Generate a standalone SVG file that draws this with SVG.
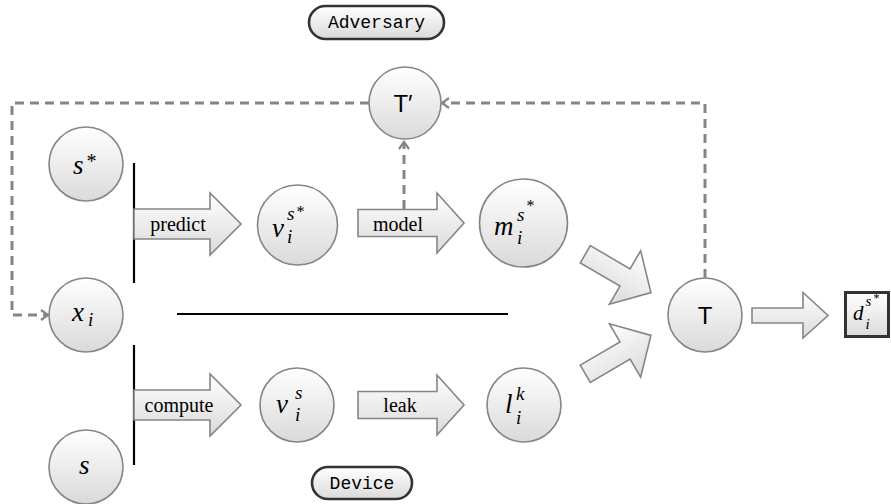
<svg xmlns="http://www.w3.org/2000/svg" width="891" height="504" viewBox="0 0 891 504">
<style>
.node{fill:url(#gfill);stroke:#858585;stroke-width:1.6}
.blk{fill:url(#gfill);stroke:#858585;stroke-width:1.6;stroke-linejoin:miter}
.dash{fill:none;stroke:#858585;stroke-width:3;stroke-dasharray:9 6}
.bar{stroke:#000;stroke-width:2.2;fill:none}
.pill{fill:url(#gfill);stroke:#333;stroke-width:2.6}
.m{font-family:"Liberation Serif",serif;font-style:italic;font-size:27px;fill:#000}
.ms{font-family:"Liberation Serif",serif;font-style:italic;font-size:19px;fill:#000}
.ast{font-family:"Liberation Serif",serif;font-size:16px;fill:#000}
.lab{font-family:"Liberation Serif",serif;font-size:20px;fill:#000;text-anchor:middle}
.sans{font-family:"Liberation Sans",Arial,sans-serif;font-size:24px;fill:#000;text-anchor:middle}
.tt{font-family:"Liberation Mono","DejaVu Sans Mono",monospace;font-size:18px;fill:#000;text-anchor:middle}
</style>
<defs>
<linearGradient id="gfill" x1="0" y1="0" x2="0" y2="1">
<stop offset="0" stop-color="#ffffff"/>
<stop offset="1" stop-color="#dadada"/>
</linearGradient>
<marker id="chev" viewBox="0 0 12 12" refX="10" refY="6" markerWidth="12" markerHeight="12" markerUnits="userSpaceOnUse" orient="auto">
<path d="M3,1 L10,6 L3,11" fill="none" stroke="#858585" stroke-width="2.2" stroke-dasharray="none"/>
</marker>
</defs>

<g id="connectors">
<path class="dash" d="M369,103 H12 V315 H48" marker-end="url(#chev)"/>
<path class="dash" d="M705,278 V103 H442" marker-end="url(#chev)"/>
<line class="bar" x1="134" y1="163" x2="134" y2="283"/>
<line class="bar" x1="134" y1="345" x2="134" y2="465"/>
<line class="bar" x1="177" y1="314" x2="508" y2="314"/>
<g id="arrow-predict">
<polygon class="blk" points="134,209 210,209 210,193 241,224 210,255 210,239 134,239"/>
<text class="lab" x="178" y="231">predict</text>
</g>
<g id="arrow-model">
<polygon class="blk" points="358,209.5 437,209.5 437,193 464,223 437,253 437,236.5 358,236.5"/>
<text class="lab" x="398" y="231">model</text>
</g>
<path class="dash" d="M404,209 V142" marker-end="url(#chev)"/>
<g id="arrow-compute">
<polygon class="blk" points="134,390 210,390 210,374 241,405 210,436 210,420 134,420"/>
<text class="lab" x="179" y="412">compute</text>
</g>
<g id="arrow-leak">
<polygon class="blk" points="358,391.5 437,391.5 437,375 464,405 437,435 437,418.5 358,418.5"/>
<text class="lab" x="400" y="412">leak</text>
</g>
<polygon class="blk" transform="translate(585.3,254.3) rotate(30.3)" points="0,-10 46,-10 46,-31 76,0 46,31 46,10 0,10"/>
<polygon class="blk" transform="translate(585.3,373.7) rotate(-30.3)" points="0,-10 46,-10 46,-31 76,0 46,31 46,10 0,10"/>
<polygon class="blk" points="752,308 803,308 803,292.5 828,315.5 803,338 803,323 752,323"/>
</g>

<g id="adversary">
<rect class="pill" x="309" y="6" width="135" height="33" rx="16.5"/>
<text class="tt" x="376.5" y="28">Adversary</text>
</g>
<g id="device">
<rect class="pill" x="312" y="467" width="100" height="32" rx="16"/>
<text class="tt" x="362" y="489">Device</text>
</g>

<g id="n-sstar">
<circle class="node" cx="86" cy="164" r="37"/>
<text class="m" x="73" y="174">s</text>
<text class="ast" style="font-size:20px" x="86.5" y="167.5">*</text>
</g>
<g id="n-xi">
<circle class="node" cx="86" cy="315" r="37"/>
<text class="m" x="72" y="321">x</text>
<text class="ms" x="88" y="326">i</text>
</g>
<g id="n-s">
<circle class="node" cx="86" cy="467" r="37"/>
<text class="m" x="79" y="474">s</text>
</g>
<g id="n-vstar">
<circle class="node" cx="297.5" cy="225" r="40"/>
<text class="m" x="272" y="237">v</text>
<text class="ms" x="287" y="220">s</text>
<text class="ms" x="287" y="243">i</text>
<text class="ast" x="296.5" y="217">*</text>
</g>
<g id="n-mstar">
<circle class="node" cx="523.5" cy="223" r="44"/>
<text class="m" x="494" y="235">m</text>
<text class="ms" x="517" y="221">s</text>
<text class="ms" x="517" y="244">i</text>
<text class="ast" x="526.5" y="211">*</text>
</g>
<g id="n-vs">
<circle class="node" cx="297" cy="405" r="37"/>
<text class="m" x="276" y="413">v</text>
<text class="ms" x="295" y="399">s</text>
<text class="ms" x="295" y="421">i</text>
</g>
<g id="n-lk">
<circle class="node" cx="524" cy="405" r="37"/>
<text class="m" x="505" y="413">l</text>
<text class="ms" x="516" y="400">k</text>
<text class="ms" x="516" y="424">i</text>
</g>
<g id="n-Tprime">
<circle class="node" cx="405" cy="103" r="36"/>
<text class="sans" x="403" y="112">T′</text>
</g>
<g id="n-T">
<circle class="node" cx="705" cy="315" r="37"/>
<text class="sans" x="705" y="324">T</text>
</g>
<g id="n-d">
<rect x="845.5" y="292.5" width="43" height="44" fill="url(#gfill)" stroke="#333" stroke-width="3"/>
<text class="m" style="font-size:21px" x="853" y="320">d</text>
<text class="ms" style="font-size:15px" x="865.5" y="306">s</text>
<text class="ms" style="font-size:15px" x="865.5" y="329">i</text>
<text class="ast" style="font-size:12px" x="873.5" y="302">*</text>
</g>
</svg>
